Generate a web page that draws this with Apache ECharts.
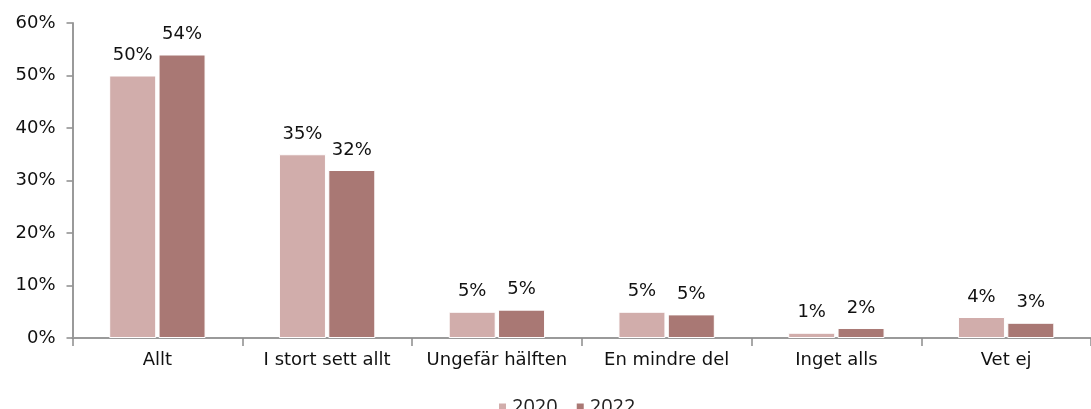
<!DOCTYPE html>
<html>
<head>
<meta charset="utf-8">
<script src="https://cdn.jsdelivr.net/npm/echarts@6/dist/echarts.min.js"></script>
<style>
  html, body { margin: 0; padding: 0; background: #fff; }
  #chart { width: 1091px; height: 409px; }
</style>
</head>
<body>
<div id="chart"></div>
<script>
// kategorier och värden (procent)
var categories = ['Allt', 'I stort sett allt', 'Ungefär hälften', 'En mindre del', 'Inget alls', 'Vet ej'];
var values2020 = [50, 35, 5, 5, 1, 4];
var values2022 = [54, 32, 5.4, 4.5, 1.9, 2.9];
var seriesNames = ['2020', '2022'];

var chart = echarts.init(document.getElementById('chart'));

var labelOpt = {
    show: true,
    position: 'top',
    distance: 11,
    color: '#111',
    fontFamily: 'DejaVu Sans',
    fontSize: 18,
    formatter: function (p) { return Math.round(p.value) + '%'; }
};

var option = {
    animation: false,
    textStyle: { fontFamily: 'DejaVu Sans' },
    // axeln fortsätter utanför bildens högra kant
    grid: { left: 72.5, right: -9.5, top: 23, bottom: 71 },
    legend: {
        top: 392,
        left: 492,
        itemWidth: 9,
        itemHeight: 9,
        itemGap: 17,
        icon: 'rect',
        textStyle: { fontFamily: 'Open Sans', fontSize: 20, color: '#222' },
        data: seriesNames
    },
    xAxis: {
        type: 'category',
        data: categories,
        axisLine: { lineStyle: { color: '#9a9a9a', width: 2 } },
        axisTick: { show: true, interval: 0, length: 8, lineStyle: { color: '#8c8c8c', width: 1.5 } },
        axisLabel: { interval: 0, color: '#111', fontSize: 18, margin: 13, fontFamily: 'DejaVu Sans' }
    },
    yAxis: {
        type: 'value',
        min: 0,
        max: 60,
        interval: 10,
        splitLine: { show: false },
        axisLine: { show: true, lineStyle: { color: '#9a9a9a', width: 2 } },
        axisTick: { show: true, length: 6, lineStyle: { color: '#8c8c8c', width: 1.5 } },
        axisLabel: { color: '#111', fontSize: 18, margin: 17, formatter: '{value}%', fontFamily: 'DejaVu Sans' }
    },
    series: [
        {
            name: seriesNames[0],
            type: 'bar',
            data: values2020,
            barWidth: 47,
            barGap: '5%',
            itemStyle: { color: '#d1adab', borderColor: '#fff', borderWidth: 1 },
            label: labelOpt
        },
        {
            name: seriesNames[1],
            type: 'bar',
            data: values2022,
            barWidth: 47,
            itemStyle: { color: '#a97874', borderColor: '#fff', borderWidth: 1 },
            label: labelOpt
        }
    ]
};

chart.setOption(option);
</script>
</body>
</html>
